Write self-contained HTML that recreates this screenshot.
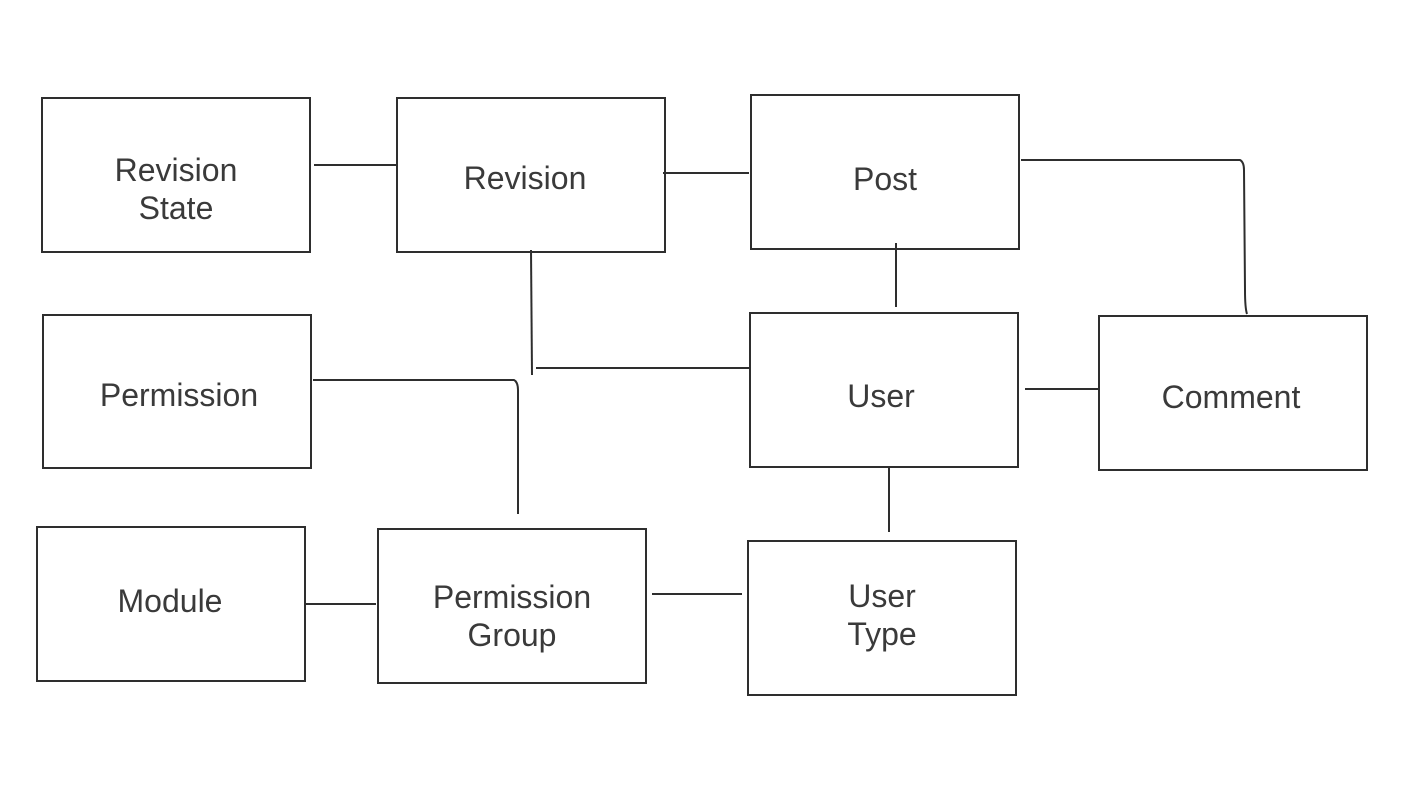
<!DOCTYPE html>
<html><head><meta charset="utf-8"><style>
html,body{margin:0;padding:0;background:#fff;}
svg{display:block;}
text{font-family:"Liberation Sans",sans-serif;font-size:32px;fill:#3a3a3a;text-anchor:middle;}
</style></head><body>
<svg width="1422" height="800" viewBox="0 0 1422 800">
<g fill="none" stroke="#2e2e2e" stroke-width="2">
<rect x="42" y="98" width="268" height="154"/>
<rect x="397" y="98" width="268" height="154"/>
<rect x="751" y="95" width="268" height="154"/>
<rect x="43" y="315" width="268" height="153"/>
<rect x="750" y="313" width="268" height="154"/>
<rect x="1099" y="316" width="268" height="154"/>
<rect x="37" y="527" width="268" height="154"/>
<rect x="378" y="529" width="268" height="154"/>
<rect x="748" y="541" width="268" height="154"/>
<path d="M314 165H397"/>
<path d="M663 173H749"/>
<path d="M1021 160H1240Q1244 162 1244 170L1245 290Q1245 308 1247 314"/>
<path d="M896 243V307"/>
<path d="M531 250L532 375"/>
<path d="M536 368H750"/>
<path d="M313 380H514Q518 382 518 390V514"/>
<path d="M1025 389H1099"/>
<path d="M889 466V532"/>
<path d="M306 604H376"/>
<path d="M652 594H742"/>
</g>
<text x="176" y="181">Revision</text>
<text x="176" y="219">State</text>
<text x="525" y="189">Revision</text>
<text x="885" y="190">Post</text>
<text x="179" y="406">Permission</text>
<text x="881" y="407">User</text>
<text x="1231" y="408">Comment</text>
<text x="170" y="612">Module</text>
<text x="512" y="608">Permission</text>
<text x="512" y="646">Group</text>
<text x="882" y="607">User</text>
<text x="882" y="645">Type</text>
</svg>
</body></html>
